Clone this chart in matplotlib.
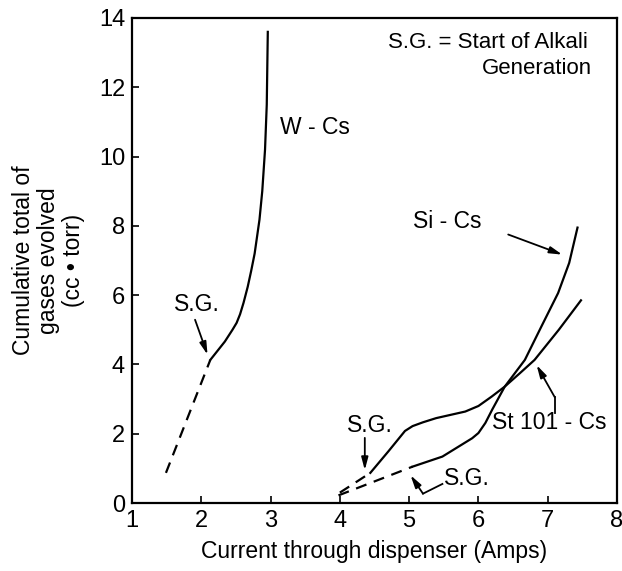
import matplotlib
matplotlib.use("Agg")
import matplotlib.pyplot as plt

plt.rcParams['font.family'] = ['Liberation Sans', 'DejaVu Sans']

# ---- data ----
w_dash_x = [1.49, 2.13]
w_dash_y = [0.87, 4.13]
w_x = [2.13, 2.34, 2.45, 2.51, 2.56, 2.61, 2.67, 2.72, 2.77, 2.84, 2.88, 2.92, 2.945, 2.96]
w_y = [4.13, 4.66, 5.0, 5.2, 5.45, 5.78, 6.24, 6.7, 7.2, 8.18, 9.0, 10.2, 11.5, 13.6]

st_dash_x = [4.0, 4.44]
st_dash_y = [0.3, 0.87]
st_x = [4.44, 4.7, 4.94, 5.05, 5.2, 5.39, 5.81, 6.0, 6.19, 6.38, 6.6, 6.81, 7.16, 7.48]
st_y = [0.87, 1.49, 2.08, 2.22, 2.33, 2.45, 2.64, 2.8, 3.07, 3.36, 3.75, 4.13, 5.0, 5.85]

si_dash_x = [3.98, 5.05]
si_dash_y = [0.22, 1.05]
si_x = [5.05, 5.48, 5.91, 6.0, 6.1, 6.2, 6.38, 6.67, 6.91, 7.15, 7.31, 7.43]
si_y = [1.05, 1.34, 1.87, 2.02, 2.31, 2.7, 3.36, 4.13, 5.1, 6.06, 6.93, 7.95]

x_ticks = [1, 2, 3, 4, 5, 6, 7, 8]
y_ticks = [0, 2, 4, 6, 8, 10, 12, 14]

FS = 16.5
TFS = 17
fig = plt.figure(figsize=(6.22, 5.71), dpi=100)
ax = fig.add_axes([132/622, 1-503/571, (617-132)/622, (503-18)/571])

lw = 1.6
dash = (5, 3.5)
ax.plot(w_dash_x, w_dash_y, color='black', lw=lw, dashes=dash)
ax.plot(w_x, w_y, color='black', lw=lw)
ax.plot(st_dash_x, st_dash_y, color='black', lw=lw, dashes=dash)
ax.plot(st_x, st_y, color='black', lw=lw)
ax.plot(si_dash_x, si_dash_y, color='black', lw=lw, dashes=dash)
ax.plot(si_x, si_y, color='black', lw=lw)

ax.set_xlim(1, 8)
ax.set_ylim(0, 14)
ax.set_xticks(x_ticks)
ax.set_yticks(y_ticks)
ax.set_xticklabels([str(v) for v in x_ticks])
ax.set_yticklabels([str(v) for v in y_ticks])
ax.tick_params(direction='in', length=5, width=1.2, labelsize=TFS, pad=5)
for s in ax.spines.values():
    s.set_linewidth(1.6)

ax.set_xlabel('Current through dispenser (Amps)', fontsize=FS, labelpad=6)
ax.set_ylabel('Cumulative total of\ngases evolved\n(cc • torr)', fontsize=FS,
              linespacing=1.12, labelpad=10)

arrow = dict(arrowstyle='-|>,head_length=0.75,head_width=0.2', color='black', lw=1.3,
             shrinkA=0, shrinkB=0)

# text labels
ax.text(6.14, 13.3, 'S.G. = Start of Alkali', fontsize=16, ha='center', va='center')
ax.text(6.85, 12.55, 'Generation', fontsize=16, ha='center', va='center')
ax.text(3.14, 10.84, 'W - Cs', fontsize=FS, ha='left', va='center')
ax.text(5.06, 8.12, 'Si - Cs', fontsize=FS, ha='left', va='center')
ax.text(6.2, 2.31, 'St 101 - Cs', fontsize=FS, ha='left', va='center')

ax.text(1.6, 5.72, 'S.G.', fontsize=FS, ha='left', va='center')
ax.annotate('', xy=(2.09, 4.28), xytext=(1.91, 5.29), arrowprops=arrow)

ax.text(4.1, 2.25, 'S.G.', fontsize=FS, ha='left', va='center')
ax.annotate('', xy=(4.36, 0.95), xytext=(4.36, 1.88), arrowprops=arrow)

ax.text(5.5, 0.72, 'S.G.', fontsize=FS, ha='left', va='center')
ax.plot([5.48, 5.2], [0.55, 0.27], color='black', lw=1.3)
ax.annotate('', xy=(5.02, 0.8), xytext=(5.2, 0.27), arrowprops=arrow)

ax.annotate('', xy=(7.21, 7.17), xytext=(6.43, 7.75), arrowprops=arrow)

ax.plot([7.1, 7.1], [2.6, 3.06], color='black', lw=1.3)
ax.annotate('', xy=(6.84, 3.98), xytext=(7.1, 3.06), arrowprops=arrow)

fig.savefig('out.png', dpi=100)
